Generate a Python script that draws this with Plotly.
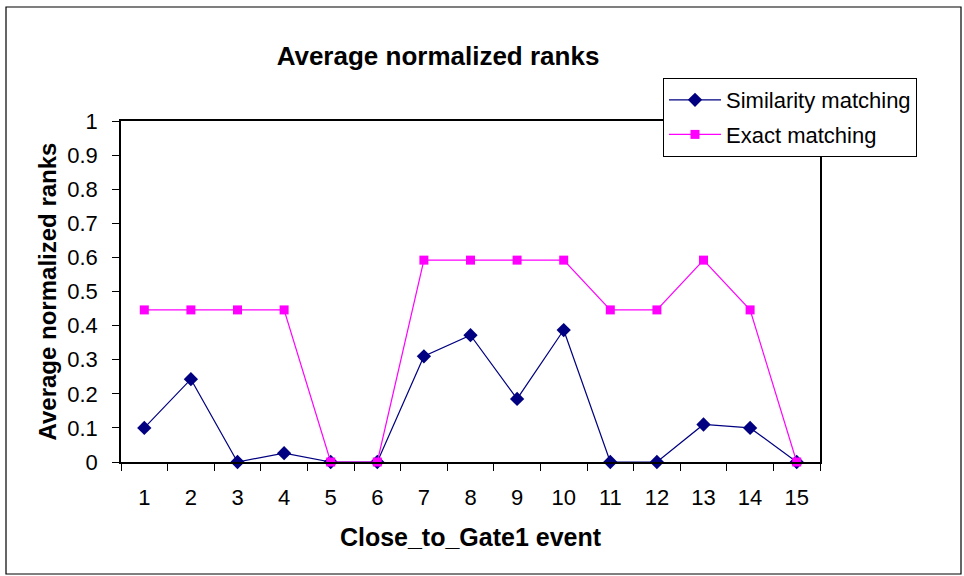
import plotly.graph_objects as go

categories = [str(i) for i in range(1, 16)]
similarity = [0.10, 0.243, 0.0, 0.026, 0.0, 0.0, 0.31, 0.372, 0.185, 0.387, 0.0, 0.0, 0.11, 0.10, 0.0]
exact = [0.446, 0.446, 0.446, 0.446, 0.0, 0.0, 0.592, 0.592, 0.592, 0.592, 0.446, 0.446, 0.592, 0.446, 0.0]
y_ticks = [0, 0.1, 0.2, 0.3, 0.4, 0.5, 0.6, 0.7, 0.8, 0.9, 1]

W, H = 964, 576
L, R, T, B = 121, 820, 121, 462


def px_x(px):
    return (px - L) / (R - L)


def px_y(py):
    return (B - py) / (B - T)


font_family = "Liberation Sans, Arial, sans-serif"

fig = go.Figure()
fig.add_trace(go.Scatter(
    x=categories, y=similarity, mode="lines+markers", name="Similarity matching",
    legendgroup="a",
    line=dict(color="#000080", width=1.2),
    marker=dict(symbol="diamond", size=11, color="#000080"),
    cliponaxis=False,
))
fig.add_trace(go.Scatter(
    x=categories, y=exact, mode="lines+markers", name="Exact matching",
    legendgroup="b",
    line=dict(color="#FF00FF", width=1.2),
    marker=dict(symbol="square", size=9, color="#FF00FF"),
    cliponaxis=False,
))

fig.update_layout(
    width=W, height=H,
    margin=dict(l=L, r=W - R, t=T, b=H - B, pad=0, autoexpand=False),
    paper_bgcolor="white", plot_bgcolor="white",
    font=dict(family=font_family, color="black", size=15),
    showlegend=True,
    legend=dict(
        x=px_x(663), y=px_y(78), xanchor="left", yanchor="top",
        bordercolor="black", borderwidth=1, bgcolor="white",
        font=dict(size=22, family=font_family),
        tracegroupgap=3, itemwidth=52,
    ),
    title=dict(
        text="<b>Average normalized ranks</b>", x=438 / W, xanchor="center",
        y=1 - 56 / H, yanchor="middle", yref="container",
        font=dict(size=26, family=font_family, color="black"),
    ),
    xaxis=dict(
        type="category", range=[-0.5, 14.5],
        showline=True, linecolor="black", linewidth=1.5, mirror=True,
        ticks="outside", ticklen=7, tickwidth=1.2, tickcolor="black",
        tickson="boundaries", showgrid=False, zeroline=False,
        tickfont=dict(size=22), ticklabelstandoff=15,
        title=dict(text="<b>Close_to_Gate1 event</b>", font=dict(size=25), standoff=19),
    ),
    yaxis=dict(
        range=[0, 1], tickvals=y_ticks, ticktext=[str(v) for v in y_ticks],
        showline=True, linecolor="black", linewidth=1.5, mirror=True,
        ticks="outside", ticklen=7, tickwidth=1.2, tickcolor="black",
        showgrid=False, zeroline=False,
        tickfont=dict(size=22), ticklabelstandoff=10,
        title=dict(text="<b>Average normalized ranks</b>", font=dict(size=24), standoff=4),
    ),
)

fig.add_shape(
    type="rect", xref="paper", yref="paper",
    x0=px_x(6), x1=px_x(961), y0=px_y(574), y1=px_y(7),
    line=dict(color="black", width=1.2), fillcolor="rgba(0,0,0,0)", layer="below",
)

fig.write_html("out.html", config={"displayModeBar": False},
               post_script="document.body.style.margin='0';")
